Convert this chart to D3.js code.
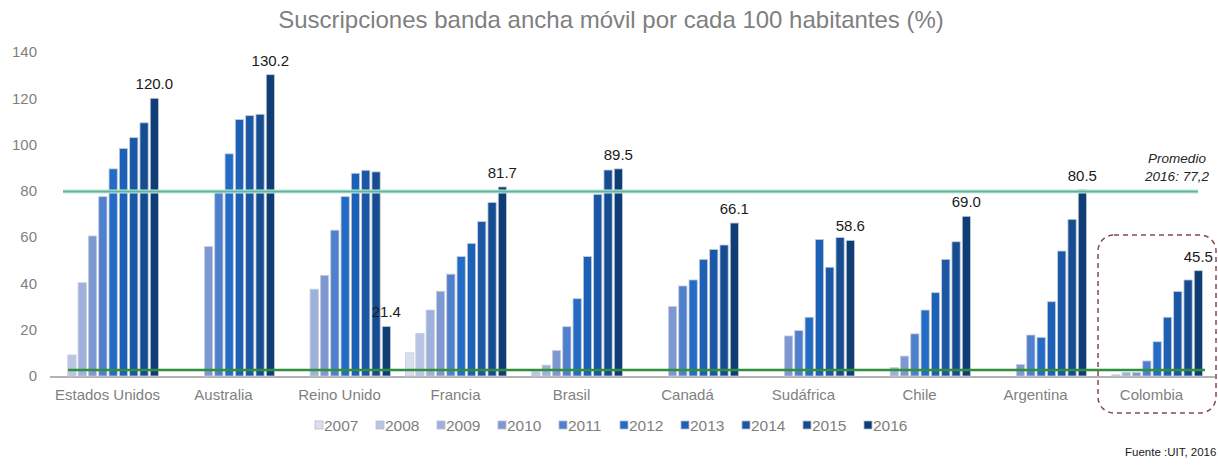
<!DOCTYPE html>
<html>
<head>
<meta charset="utf-8">
<script src="https://cdn.jsdelivr.net/npm/d3@7"></script>
<style>
  body { margin: 0; background: #fff; }
  svg { display: block; font-family: "Liberation Sans", Arial, sans-serif; }
</style>
</head>
<body>
<div id="chart"></div>
<script>
"use strict"
// Values (null = no bar)
var paises = ["Estados Unidos", "Australia", "Reino Unido", "Francia", "Brasil",
    "Canadá", "Sudáfrica", "Chile", "Argentina", "Colombia"]
var anios = ["2007", "2008", "2009", "2010", "2011", "2012", "2013", "2014", "2015", "2016"]

var estadosUnidos = [null, 9.1, 40.3, 60.5, 77.5, 89.5, 98.3, 103.0, 109.4, 120.0]
var australia     = [null, null, null, 55.9, 79.6, 96.0, 110.8, 112.5, 113.1, 130.2]
var reinoUnido    = [null, null, 37.5, 43.5, 63.0, 77.5, 87.6, 88.9, 88.2, 21.4]
var francia       = [10.0, 18.4, 28.5, 36.6, 44.0, 51.6, 57.3, 66.7, 75.0, 81.7]
var brasil        = [null, 1.9, 4.7, 11.0, 21.3, 33.4, 51.6, 78.5, 89.0, 89.5]
var canada        = [null, null, null, 30.0, 38.9, 41.5, 50.4, 54.7, 56.6, 66.1]
var sudafrica     = [null, null, null, 17.3, 19.6, 25.4, 59.0, 47.0, 59.8, 58.6]
var chile         = [null, null, 3.6, 8.6, 18.2, 28.5, 36.0, 50.4, 58.0, 69.0]
var argentina     = [null, null, null, 5.0, 17.7, 16.7, 32.1, 54.0, 67.7, 80.5]
var colombia      = [null, 0.5, 1.5, 1.5, 6.5, 14.8, 25.4, 36.5, 41.5, 45.5]

var series = [estadosUnidos, australia, reinoUnido, francia, brasil,
    canada, sudafrica, chile, argentina, colombia]

var yTicks = [0, 20, 40, 60, 80, 100, 120, 140]
var promedio = 79.7       // where the line is drawn
var promedioTexto = ["Promedio", "2016: 77,2"]
var lineaBaja = 2.6       // lower green line
var titulo = "Suscripciones banda ancha móvil por cada 100 habitantes (%)"
var fuente = "Fuente :UIT, 2016"

var colores = ["#d9dff1", "#b9c5e5", "#9eb1dc", "#7e98d3", "#4f80cf",
    "#226bc6", "#1b61b8", "#1a58a7", "#164d92", "#0f3e77"]

var width = 1218
var height = 468

var svg = d3.select("#chart").append("svg")
    .attr("width", width)
    .attr("height", height)

// Scales
var x0 = d3.scaleBand().domain(paises).range([49.5, 1209.5])
var x1 = d3.scaleBand().domain(anios).range([0, 101]).paddingInner(0.2).paddingOuter(0)
var y = d3.scaleLinear().domain([0, 140]).range([376, 52])
var color = d3.scaleOrdinal().domain(anios).range(colores)

// Title
svg.append("text")
    .attr("x", 611)
    .attr("y", 28)
    .attr("text-anchor", "middle")
    .attr("font-size", 24)
    .attr("fill", "#7f7f7f")
    .text(titulo)

// Y axis (labels only)
var yAxis = d3.axisLeft(y).tickValues(yTicks).tickSize(0).tickPadding(0)
var gy = svg.append("g")
    .attr("transform", "translate(37,0)")
    .call(yAxis)
gy.select(".domain").remove()
gy.selectAll("text")
    .attr("font-size", 15)
    .attr("font-family", "Liberation Sans, Arial, sans-serif")
    .attr("fill", "#7f7f7f")

// Baseline
svg.append("line")
    .attr("x1", 50).attr("x2", 1215)
    .attr("y1", y(0) + 1).attr("y2", y(0) + 1)
    .attr("stroke", "#b3b3b3")
    .attr("stroke-width", 2)

// Bars
var groups = svg.selectAll(".grupo")
    .data(paises)
    .enter().append("g")
    .attr("class", "grupo")
    .attr("transform", function (d) { return "translate(" + (x0(d) + 8) + ",0)" })

groups.selectAll("rect")
    .data(function (d, i) {
        return series[i].map(function (v, j) { return { anio: anios[j], valor: v } })
            .filter(function (e) { return e.valor !== null })
    })
    .enter().append("rect")
    .attr("x", function (d) { return x1(d.anio) })
    .attr("y", function (d) { return y(d.valor) })
    .attr("width", x1.bandwidth())
    .attr("height", function (d) { return y(0) - y(d.valor) })
    .attr("fill", function (d) { return color(d.anio) })
    .attr("stroke", "#c8ccd6")
    .attr("stroke-width", 0.8)

// Value labels on the 2016 bar
groups.append("text")
    .attr("x", x1("2016") + x1.bandwidth() / 2)
    .attr("y", function (d, i) { return y(series[i][9]) - 9 })
    .attr("text-anchor", "middle")
    .attr("font-size", 15)
    .attr("fill", "#1a1a1a")
    .text(function (d, i) { return series[i][9].toFixed(1) })

// Reference lines
svg.append("line")
    .attr("x1", 63).attr("x2", 1198)
    .attr("y1", y(promedio)).attr("y2", y(promedio))
    .attr("stroke", "#c4ebe0")
    .attr("stroke-width", 4)
svg.append("line")
    .attr("x1", 63).attr("x2", 1198)
    .attr("y1", y(promedio)).attr("y2", y(promedio))
    .attr("stroke", "#62b49b")
    .attr("stroke-width", 2)

svg.append("line")
    .attr("x1", 68).attr("x2", 1205)
    .attr("y1", y(lineaBaja)).attr("y2", y(lineaBaja))
    .attr("stroke", "#2f8f3c")
    .attr("stroke-width", 2.5)

// Promedio label
svg.append("text")
    .attr("text-anchor", "middle")
    .attr("font-size", 13.5)
    .attr("font-style", "italic")
    .attr("fill", "#262626")
    .selectAll("tspan")
    .data(promedioTexto)
    .enter().append("tspan")
    .attr("x", 1177)
    .attr("y", function (d, i) { return 163 + i * 18 })
    .text(function (d) { return d })

// Category labels
svg.selectAll(".pais")
    .data(paises)
    .enter().append("text")
    .attr("class", "pais")
    .attr("x", function (d) { return x0(d) + x0.bandwidth() / 2 })
    .attr("y", 400)
    .attr("text-anchor", "middle")
    .attr("font-size", 15)
    .attr("fill", "#7f7f7f")
    .text(function (d) { return d })

// Colombia highlight box
svg.append("rect")
    .attr("x", 1098)
    .attr("y", 235)
    .attr("width", 118)
    .attr("height", 178)
    .attr("rx", 16)
    .attr("fill", "none")
    .attr("stroke", "#86475c")
    .attr("stroke-width", 1.5)
    .attr("stroke-dasharray", "5,4")

// Legend
var legend = svg.selectAll(".leyenda")
    .data(anios)
    .enter().append("g")
    .attr("class", "leyenda")
    .attr("transform", function (d, i) { return "translate(" + (315 + i * 61) + ",421)" })

legend.append("rect")
    .attr("width", 8).attr("height", 8)
    .attr("fill", function (d) { return color(d) })
    .attr("stroke", "#b8bcc8")
    .attr("stroke-width", 0.8)

legend.append("text")
    .attr("x", 9)
    .attr("y", 9.5)
    .attr("font-size", 15.5)
    .attr("fill", "#7f7f7f")
    .text(function (d) { return d })

// Source
svg.append("text")
    .attr("x", 1125)
    .attr("y", 456)
    .attr("font-size", 11.5)
    .attr("fill", "#1a1a1a")
    .text(fuente)
</script>
</body>
</html>
